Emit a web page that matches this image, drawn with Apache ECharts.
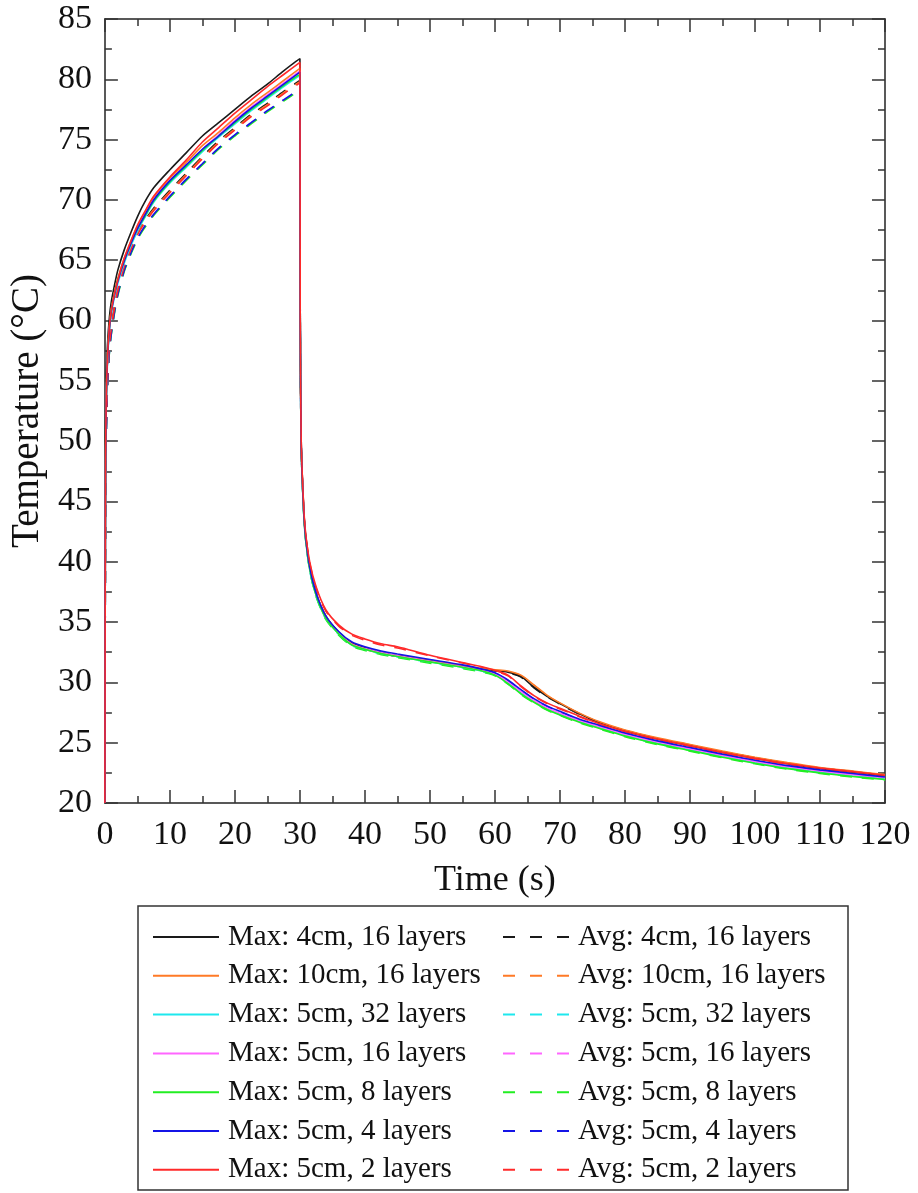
<!DOCTYPE html>
<html>
<head>
<meta charset="utf-8">
<script src="https://cdn.jsdelivr.net/npm/echarts@6/dist/echarts.min.js"></script>
<style>
html,body{margin:0;padding:0;background:#fff;}
#chart{width:918px;height:1193px;}
</style>
</head>
<body>
<div id="chart"></div>
<script>
// Time (s)
const time = [0, 0.05, 0.1, 0.2, 0.4, 0.7, 1, 1.5, 2, 3, 4, 5, 6, 7.5, 10, 12.5, 15, 17.5, 20, 22.5, 25, 27.5, 30,
  30.05, 30.2, 30.5, 30.8, 31.5, 32.5, 34, 36, 38, 40, 42.5, 45, 50, 55, 58, 60, 62, 64, 66, 68, 70, 73, 76, 80, 85, 90, 95, 100, 105, 110, 115, 120];

// Max temperatures
const max4cm16 = [20, 40, 50, 55, 58, 60.3, 61.6, 63.0, 64.2, 65.9, 67.3, 68.6, 69.7, 71.0, 72.5, 73.9, 75.3, 76.4, 77.5, 78.6, 79.6, 80.7, 81.7,
  60, 50, 45.3, 42.6, 39.7, 37.4, 35.5, 34.15, 33.25, 32.85, 32.45, 32.2, 31.8, 31.35, 31.1, 31.0, 30.85, 30.5, 29.6, 28.85, 28.25, 27.4, 26.7, 26.0, 25.35, 24.8, 24.25, 23.75, 23.3, 22.9, 22.6, 22.3];
const max10cm16 = [20, 38, 48, 53.5, 57, 59.5, 61.0, 62.4, 63.5, 65.2, 66.6, 67.8, 68.8, 70.2, 71.8, 73.1, 74.5, 75.6, 76.8, 77.9, 78.9, 79.9, 80.9,
  60, 49.8, 45.2, 42.5, 39.6, 37.4, 35.5, 34.1, 33.2, 32.8, 32.45, 32.2, 31.8, 31.4, 31.15, 31.05, 30.95, 30.6, 29.8, 28.95, 28.3, 27.45, 26.75, 26.05, 25.4, 24.85, 24.3, 23.8, 23.35, 22.95, 22.65, 22.35];
const max5cm32 = [20, 37, 47, 53, 56.5, 59.2, 60.6, 62.0, 63.1, 64.8, 66.2, 67.4, 68.4, 69.8, 71.4, 72.7, 74.0, 75.2, 76.3, 77.4, 78.4, 79.4, 80.3,
  60, 49.5, 45.0, 42.3, 39.4, 37.2, 35.3, 34.0, 33.1, 32.75, 32.4, 32.15, 31.7, 31.25, 30.95, 30.65, 29.95, 29.1, 28.4, 27.8, 27.35, 26.75, 26.25, 25.6, 24.95, 24.4, 23.85, 23.35, 22.9, 22.55, 22.25, 22.0];
const max5cm16 = [20, 37.5, 47.5, 53.2, 56.8, 59.4, 60.8, 62.2, 63.3, 65.0, 66.4, 67.6, 68.6, 70.0, 71.6, 72.9, 74.2, 75.4, 76.6, 77.7, 78.7, 79.7, 80.7,
  60, 49.6, 45.1, 42.4, 39.5, 37.3, 35.35, 34.05, 33.15, 32.8, 32.45, 32.2, 31.75, 31.3, 31.0, 30.7, 30.05, 29.25, 28.5, 27.9, 27.45, 26.85, 26.35, 25.7, 25.05, 24.5, 23.95, 23.45, 23.0, 22.65, 22.35, 22.1];
const max5cm8 = [20, 37.5, 47.5, 53.3, 56.9, 59.5, 60.9, 62.3, 63.4, 65.0, 66.4, 67.6, 68.5, 69.9, 71.5, 72.8, 74.1, 75.3, 76.4, 77.5, 78.5, 79.5, 80.4,
  60, 49.5, 45.0, 42.3, 39.4, 37.2, 35.3, 34.0, 33.1, 32.75, 32.4, 32.15, 31.7, 31.25, 30.95, 30.6, 29.9, 29.05, 28.35, 27.75, 27.3, 26.7, 26.2, 25.55, 24.9, 24.35, 23.8, 23.3, 22.85, 22.5, 22.2, 21.95];
const max5cm4 = [20, 37.5, 47.5, 53.2, 56.8, 59.4, 60.8, 62.2, 63.3, 65.0, 66.4, 67.6, 68.6, 70.0, 71.6, 72.9, 74.2, 75.3, 76.5, 77.6, 78.6, 79.6, 80.6,
  60, 49.7, 45.2, 42.5, 39.6, 37.4, 35.5, 34.2, 33.35, 32.95, 32.6, 32.35, 31.9, 31.45, 31.1, 30.8, 30.2, 29.4, 28.65, 28.05, 27.6, 26.95, 26.45, 25.8, 25.15, 24.6, 24.05, 23.55, 23.1, 22.75, 22.45, 22.15];
const max5cm2 = [20, 38, 48, 53.5, 57, 59.6, 60.9, 62.3, 63.4, 65.2, 66.6, 67.9, 68.9, 70.3, 71.9, 73.3, 74.8, 76.0, 77.2, 78.3, 79.4, 80.4, 81.4,
  60, 50, 45.5, 42.8, 40.0, 37.9, 36.0, 34.75, 34.0, 33.6, 33.2, 32.95, 32.25, 31.65, 31.3, 31.0, 30.6, 29.7, 28.9, 28.3, 27.85, 27.2, 26.6, 25.95, 25.3, 24.75, 24.2, 23.7, 23.25, 22.9, 22.6, 22.3];

// Average temperatures
const avg4cm16 = [20, 36, 45.2, 51.2, 55.2, 58.1, 59.6, 61.3, 62.7, 64.7, 66.1, 67.3, 68.2, 69.3, 70.8, 72.2, 73.6, 74.9, 76.0, 77.1, 78.0, 79.0, 79.9,
  59.5, 49.6, 45.1, 42.4, 39.6, 37.3, 35.4, 34.1, 33.2, 32.8, 32.4, 32.15, 31.75, 31.3, 31.05, 30.95, 30.8, 30.45, 29.55, 28.8, 28.2, 27.35, 26.65, 25.95, 25.3, 24.75, 24.2, 23.7, 23.25, 22.85, 22.55, 22.25];
const avg10cm16 = [20, 36, 45, 51, 55, 58, 59.5, 61.2, 62.6, 64.6, 66.0, 67.2, 68.1, 69.2, 70.7, 72.1, 73.5, 74.8, 75.9, 77.0, 77.9, 78.9, 79.8,
  59.5, 49.5, 45.1, 42.4, 39.5, 37.3, 35.4, 34.05, 33.15, 32.75, 32.4, 32.15, 31.75, 31.35, 31.1, 31.0, 30.9, 30.55, 29.75, 28.9, 28.25, 27.4, 26.7, 26.0, 25.35, 24.8, 24.25, 23.75, 23.3, 22.9, 22.6, 22.3];
const avg5cm32 = [20, 35, 44, 50, 54.5, 57.5, 59.0, 60.8, 62.2, 64.2, 65.6, 66.8, 67.7, 68.8, 70.3, 71.7, 73.0, 74.3, 75.4, 76.4, 77.4, 78.3, 79.2,
  59.5, 49.3, 44.9, 42.2, 39.3, 37.1, 35.25, 33.95, 33.05, 32.7, 32.35, 32.1, 31.65, 31.2, 30.9, 30.6, 29.9, 29.05, 28.35, 27.75, 27.3, 26.7, 26.2, 25.55, 24.9, 24.35, 23.8, 23.3, 22.85, 22.5, 22.2, 21.95];
const avg5cm16 = [20, 35, 44, 50, 54.5, 57.5, 59.0, 60.8, 62.2, 64.2, 65.6, 66.8, 67.7, 68.8, 70.3, 71.7, 73.0, 74.3, 75.4, 76.4, 77.4, 78.3, 79.2,
  59.5, 49.4, 45.0, 42.3, 39.4, 37.2, 35.3, 34.0, 33.1, 32.75, 32.4, 32.15, 31.7, 31.25, 30.95, 30.65, 30.0, 29.2, 28.45, 27.85, 27.4, 26.8, 26.3, 25.65, 25.0, 24.45, 23.9, 23.4, 22.95, 22.6, 22.3, 22.05];
const avg5cm8 = [20, 35, 44, 50, 54.4, 57.4, 58.9, 60.7, 62.1, 64.1, 65.5, 66.7, 67.6, 68.7, 70.2, 71.6, 72.9, 74.2, 75.3, 76.3, 77.3, 78.2, 79.1,
  59.5, 49.3, 44.9, 42.2, 39.3, 37.1, 35.2, 33.9, 33.0, 32.65, 32.3, 32.05, 31.6, 31.15, 30.85, 30.55, 29.85, 29.0, 28.3, 27.7, 27.25, 26.65, 26.15, 25.5, 24.85, 24.3, 23.75, 23.25, 22.8, 22.45, 22.15, 21.9];
const avg5cm4 = [20, 35, 44, 50, 54.5, 57.5, 59.0, 60.8, 62.2, 64.2, 65.6, 66.8, 67.7, 68.8, 70.3, 71.7, 73.0, 74.3, 75.4, 76.4, 77.4, 78.3, 79.2,
  59.5, 49.5, 45.1, 42.4, 39.5, 37.3, 35.4, 34.1, 33.25, 32.85, 32.5, 32.25, 31.8, 31.35, 31.0, 30.75, 30.15, 29.35, 28.6, 28.0, 27.55, 26.9, 26.4, 25.75, 25.1, 24.55, 24.0, 23.5, 23.05, 22.7, 22.4, 22.1];
const avg5cm2 = [20, 36, 45, 51, 55, 58, 59.4, 61.1, 62.5, 64.5, 65.9, 67.1, 68.0, 69.1, 70.6, 72.0, 73.4, 74.7, 75.8, 76.9, 77.8, 78.8, 79.7,
  59.5, 49.8, 45.4, 42.7, 39.9, 37.8, 35.9, 34.65, 33.9, 33.5, 33.1, 32.85, 32.2, 31.6, 31.25, 30.95, 30.55, 29.65, 28.85, 28.25, 27.8, 27.15, 26.55, 25.9, 25.25, 24.7, 24.15, 23.65, 23.2, 22.85, 22.55, 22.25];

const maxNames = ['Max: 4cm, 16 layers', 'Max: 10cm, 16 layers', 'Max: 5cm, 32 layers', 'Max: 5cm, 16 layers', 'Max: 5cm, 8 layers', 'Max: 5cm, 4 layers', 'Max: 5cm, 2 layers'];
const avgNames = ['Avg: 4cm, 16 layers', 'Avg: 10cm, 16 layers', 'Avg: 5cm, 32 layers', 'Avg: 5cm, 16 layers', 'Avg: 5cm, 8 layers', 'Avg: 5cm, 4 layers', 'Avg: 5cm, 2 layers'];
const maxData = [max4cm16, max10cm16, max5cm32, max5cm16, max5cm8, max5cm4, max5cm2];
const avgData = [avg4cm16, avg10cm16, avg5cm32, avg5cm16, avg5cm8, avg5cm4, avg5cm2];
const colors = ['#1a1a1a', '#ff7a26', '#1ee8ee', '#ff66ff', '#22ee22', '#1414e6', '#ff2a2a'];

const FONT = '"Liberation Serif", "Times New Roman", serif';

function pairs(arr) { return time.map((t, i) => [t, arr[i]]); }

const series = [];
for (let i = 0; i < 7; i++) {
  series.push({
    name: maxNames[i], type: 'line', data: pairs(maxData[i]), xAxisIndex: 0, yAxisIndex: 0,
    symbol: 'none', showSymbol: false, smooth: 0.25, z: 3,
    lineStyle: { color: colors[i], width: 1.6, type: 'solid' }, itemStyle: { color: colors[i] }
  });
}
for (let i = 0; i < 7; i++) {
  series.push({
    name: avgNames[i], type: 'line', data: pairs(avgData[i]), xAxisIndex: 0, yAxisIndex: 0,
    symbol: 'none', showSymbol: false, smooth: 0.25, z: 2,
    lineStyle: { color: colors[i], width: 1.6, type: [12, 10] }, itemStyle: { color: colors[i] }
  });
}

const axisCommon = {
  axisLine: { show: true, onZero: false, lineStyle: { color: '#222', width: 1.5 } },
  axisTick: { show: true, inside: true, length: 13, lineStyle: { color: '#333', width: 1.5 } },
  minorTick: { show: true, splitNumber: 2, length: 7, lineStyle: { color: '#333', width: 1.5 } },
  splitLine: { show: false }
};

const legendCommon = {
  orient: 'vertical', top: 922, padding: 0,
  itemWidth: 66, itemHeight: 14, itemGap: 8.8,
  itemStyle: { opacity: 0, borderWidth: 0 },
  textStyle: { fontFamily: FONT, fontSize: 29, color: '#111', lineHeight: 30, padding: [0, 0, 0, 4] },
  selectedMode: false
};

const chart = echarts.init(document.getElementById('chart'), null, { renderer: 'canvas' });
chart.setOption({
  animation: false,
  backgroundColor: '#fff',
  grid: { left: 103, right: 33, top: 19, bottom: 390, containLabel: false },
  xAxis: [
    Object.assign({}, axisCommon, {
      type: 'value', position: 'bottom', min: 0, max: 120, interval: 10,
      name: 'Time (s)', nameLocation: 'middle', nameGap: 60,
      nameTextStyle: { fontFamily: FONT, fontSize: 36, color: '#111' },
      axisLabel: { show: true, margin: 15, fontFamily: FONT, fontSize: 34, color: '#111' }
    }),
    Object.assign({}, axisCommon, {
      type: 'value', position: 'top', min: 0, max: 120, interval: 10,
      axisLabel: { show: false }
    })
  ],
  yAxis: [
    Object.assign({}, axisCommon, {
      type: 'value', position: 'left', min: 20, max: 85, interval: 5,
      name: 'Temperature (°C)', nameLocation: 'middle', nameGap: 57, nameRotate: 90,
      nameTextStyle: { fontFamily: FONT, fontSize: 39, color: '#111' },
      axisLabel: { show: true, margin: 13, fontFamily: FONT, fontSize: 34, color: '#111' }
    }),
    Object.assign({}, axisCommon, {
      type: 'value', position: 'right', min: 20, max: 85, interval: 5,
      axisLabel: { show: false }
    })
  ],
  legend: [
    Object.assign({}, legendCommon, { data: maxNames, left: 152 }),
    Object.assign({}, legendCommon, { data: avgNames, left: 502, lineStyle: { type: [12, 15] } })
  ],
  graphic: [
    { type: 'rect', shape: { x: 138, y: 906, width: 710, height: 284 },
      style: { fill: 'none', stroke: '#333', lineWidth: 1.5 }, z: 0 }
  ],
  series: series
});
</script>
</body>
</html>
